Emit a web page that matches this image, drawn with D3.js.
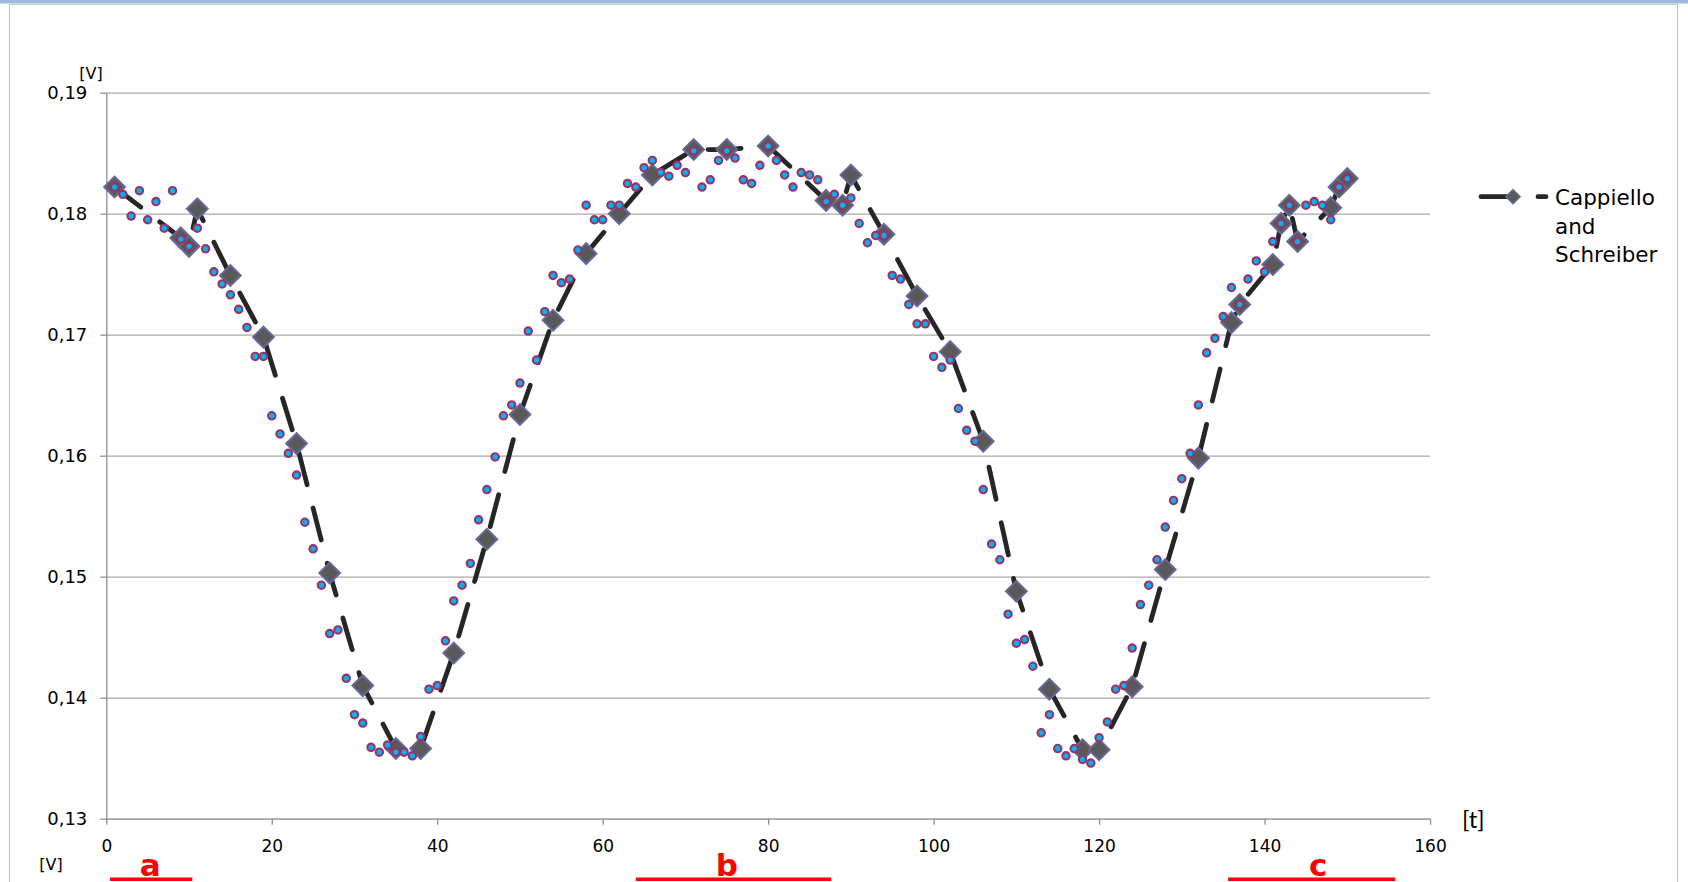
<!DOCTYPE html>
<html>
<head>
<meta charset="utf-8">
<script src="https://cdn.jsdelivr.net/npm/d3@7"></script>
<style>
  body { margin: 0; background: #fff; }
  svg { display: block; }
</style>
</head>
<body>
<div id="chart"></div>
<script>
// measured voltage, one sample for every t = 1 .. 150
var measuredV = [
  0.1822, 0.1816, 0.1798, 0.1819, 0.1795, 0.1810, 0.1788, 0.1819, 0.1779, 0.1773,
  0.1788, 0.1771, 0.1752, 0.1742, 0.1733, 0.1721, 0.1706, 0.1682, 0.1682, 0.1633,
  0.1618, 0.1602, 0.1584, 0.1545, 0.1523, 0.1493, 0.1453, 0.1456, 0.1416, 0.1386,
  0.1379, 0.1359, 0.1355, 0.1361, 0.1355, 0.1355, 0.1352, 0.1368, 0.1407, 0.1410,
  0.1447, 0.1480, 0.1493, 0.1511, 0.1547, 0.1572, 0.1599, 0.1633, 0.1642, 0.1660,
  0.1703, 0.1679, 0.1719, 0.1749, 0.1743, 0.1746, 0.1770, 0.1807, 0.1795, 0.1795,
  0.1807, 0.1807, 0.1825, 0.1822, 0.1838, 0.1844, 0.1834, 0.1831, 0.1840, 0.1834,
  0.1852, 0.1822, 0.1828, 0.1844, 0.1852, 0.1846, 0.1828, 0.1825, 0.1840, 0.1856,
  0.1844, 0.1832, 0.1822, 0.1834, 0.1832, 0.1828, 0.1810, 0.1816, 0.1807, 0.1813,
  0.1792, 0.1776, 0.1782, 0.1782, 0.1749, 0.1746, 0.1725, 0.1709, 0.1709, 0.1682,
  0.1673, 0.1679, 0.1639, 0.1621, 0.1612, 0.1572, 0.1527, 0.1514, 0.1469, 0.1445,
  0.1448, 0.1426, 0.1371, 0.1386, 0.1358, 0.1352, 0.1358, 0.1349, 0.1346, 0.1367,
  0.1380, 0.1407, 0.1410, 0.1441, 0.1477, 0.1493, 0.1514, 0.1541, 0.1563, 0.1581,
  0.1602, 0.1642, 0.1685, 0.1697, 0.1715, 0.1739, 0.1725, 0.1746, 0.1761, 0.1752,
  0.1777, 0.1792, 0.1807, 0.1777, 0.1807, 0.1810, 0.1807, 0.1795, 0.1822, 0.1829
];
var measuredT = d3.range(1, measuredV.length + 1);

// Cappiello and Schreiber model
var modelT = [1, 9, 10, 11, 15, 19, 23, 27, 31, 35, 38, 42, 46, 50, 54, 58, 62, 66, 71, 75, 80,
  87, 89, 90, 94, 98, 102, 106, 110, 114, 118, 120, 124, 128, 132, 136, 137, 141, 142, 143, 144,
  148, 149, 150];
var modelV = [0.1822, 0.1780, 0.1773, 0.1804, 0.1749, 0.1698, 0.1610, 0.1503, 0.1410, 0.1358,
  0.1358, 0.1437, 0.1531, 0.1634, 0.1712, 0.1767, 0.1800, 0.1832, 0.1853, 0.1853, 0.1856,
  0.1811, 0.1807, 0.1832, 0.1783, 0.1732, 0.1686, 0.1612, 0.1488, 0.1407, 0.1357, 0.1357,
  0.1409, 0.1506, 0.1598, 0.1710, 0.1725, 0.1758, 0.1792, 0.1807, 0.1777, 0.1805, 0.1822, 0.1829];

var xTicks = [0, 20, 40, 60, 80, 100, 120, 140, 160];
var yTicks = [0.13, 0.14, 0.15, 0.16, 0.17, 0.18, 0.19];
var legendLines = ["Cappiello", "and", "Schreiber"];

// red section marks under the time axis (in t units)
var sectionLabels = ["a", "b", "c"];
var sectionFrom = [0.45, 64, 135.6];
var sectionTo = [10.4, 87.6, 155.8];
var sectionAt = [5.3, 75, 146.5];

var measured = measuredT.map(function(t, i) { return {t: t, v: measuredV[i]}; });
var model = modelT.map(function(t, i) { return {t: t, v: modelV[i]}; });

var W = 1688, H = 882;
var margin = {top: 92.7, left: 106.3};
var width = 1430 - margin.left,
    height = 818.7 - margin.top;

var font = "'Century Gothic', 'DejaVu Sans', sans-serif";

var svg = d3.select("#chart").append("svg")
  .attr("width", W)
  .attr("height", H);

// chart frame
svg.append("rect").attr("x", 0).attr("y", 0).attr("width", W).attr("height", 3.5).attr("fill", "#9db8d9");
svg.append("rect").attr("x", 9.5).attr("y", 4.5).attr("width", 1668).attr("height", H)
  .attr("fill", "#fff").attr("stroke", "#c4c4c4");

var g = svg.append("g")
  .attr("transform", "translate(" + margin.left + "," + margin.top + ")");

var x = d3.scaleLinear().domain([0, 160]).range([0, width]);
var y = d3.scaleLinear().domain([0.13, 0.19]).range([height, 0]);

// horizontal gridlines
var grid = g.append("g")
  .call(d3.axisLeft(y).tickValues(yTicks).tickSize(-width).tickFormat(""));
grid.select(".domain").remove();
grid.selectAll("line").attr("stroke", "#a8a8a8").attr("stroke-width", 1.3);

// y axis
var yAxis = g.append("g")
  .call(d3.axisLeft(y).tickValues(yTicks).tickSize(6).tickSizeOuter(0).tickPadding(13)
    .tickFormat(function(d) { return d.toFixed(2).replace(".", ","); }));
yAxis.select(".domain").attr("stroke", "#8f8f8f").attr("stroke-width", 1.3);
yAxis.selectAll("line").attr("stroke", "#8f8f8f").attr("stroke-width", 1.3);
yAxis.selectAll("text").attr("font-family", font).attr("font-size", 18).attr("fill", "#000");

// x axis
var xAxis = g.append("g")
  .attr("transform", "translate(0," + height + ")")
  .call(d3.axisBottom(x).tickValues(xTicks).tickSize(6).tickSizeOuter(0).tickPadding(15));
xAxis.select(".domain").attr("stroke", "#a0a0a0").attr("stroke-width", 1.3);
xAxis.selectAll("line").attr("stroke", "#8f8f8f").attr("stroke-width", 1.3);
xAxis.selectAll("text").attr("font-family", font).attr("font-size", 17).attr("fill", "#000");

// model line
var line = d3.line()
  .x(function(d) { return x(d.t); })
  .y(function(d) { return y(d.v); });

g.append("path")
  .datum(model)
  .attr("d", line)
  .attr("fill", "none")
  .attr("stroke", "#262626")
  .attr("stroke-width", 4.8)
  .attr("stroke-linecap", "round")
  .attr("stroke-dasharray", "33,24");

// model diamonds
var diamond = d3.symbol().type(d3.symbolSquare).size(215);
g.append("g").selectAll("path")
  .data(model)
  .enter()
  .append("path")
  .attr("d", diamond)
  .attr("transform", function(d) { return "translate(" + x(d.t) + "," + y(d.v) + ") rotate(45)"; })
  .attr("fill", "#595959")
  .attr("stroke", "#676799")
  .attr("stroke-width", 2);

// measured dots
g.append("g").selectAll("circle")
  .data(measured)
  .enter()
  .append("circle")
  .attr("cx", function(d) { return x(d.t); })
  .attr("cy", function(d) { return y(d.v); })
  .attr("r", 3.7)
  .attr("fill", "#00b0f0")
  .attr("stroke", "#993366")
  .attr("stroke-width", 2.1);

// unit labels
svg.append("text").attr("x", 91).attr("y", 78.5).attr("text-anchor", "middle")
  .attr("font-family", font).attr("font-size", 16).text("[V]");
svg.append("text").attr("x", 51).attr("y", 869.5).attr("text-anchor", "middle")
  .attr("font-family", font).attr("font-size", 16).text("[V]");
svg.append("text").attr("x", 1462).attr("y", 827.5)
  .attr("font-family", "Lato, 'DejaVu Sans', sans-serif").attr("font-size", 24).text("[t]");

// legend
var legend = svg.append("g");
legend.append("line")
  .attr("x1", 1481).attr("x2", 1546).attr("y1", 196.7).attr("y2", 196.7)
  .attr("stroke", "#262626").attr("stroke-width", 4.8)
  .attr("stroke-linecap", "round").attr("stroke-dasharray", "33,24");
legend.append("path")
  .attr("d", d3.symbol().type(d3.symbolSquare).size(100))
  .attr("transform", "translate(1513,196.7) rotate(45)")
  .attr("fill", "#595959").attr("stroke", "#676799").attr("stroke-width", 1.5);
legend.selectAll("text")
  .data(legendLines)
  .enter()
  .append("text")
  .attr("x", 1555)
  .attr("y", function(d, i) { return 205 + i * 28.7; })
  .attr("font-family", font)
  .attr("font-size", 21.5)
  .text(function(d) { return d; });

// red section marks
var sec = svg.append("g").attr("transform", "translate(" + margin.left + ",0)");
sectionLabels.forEach(function(s, i) {
  sec.append("rect")
    .attr("x", x(sectionFrom[i])).attr("y", 877.5)
    .attr("width", x(sectionTo[i]) - x(sectionFrom[i])).attr("height", 3.5)
    .attr("fill", "#ff0000");
  sec.append("text")
    .attr("x", x(sectionAt[i])).attr("y", 875.5)
    .attr("text-anchor", "middle")
    .attr("font-family", font).attr("font-size", 31).attr("font-weight", "bold")
    .attr("fill", "#ff0000")
    .text(s);
});
</script>
</body>
</html>
